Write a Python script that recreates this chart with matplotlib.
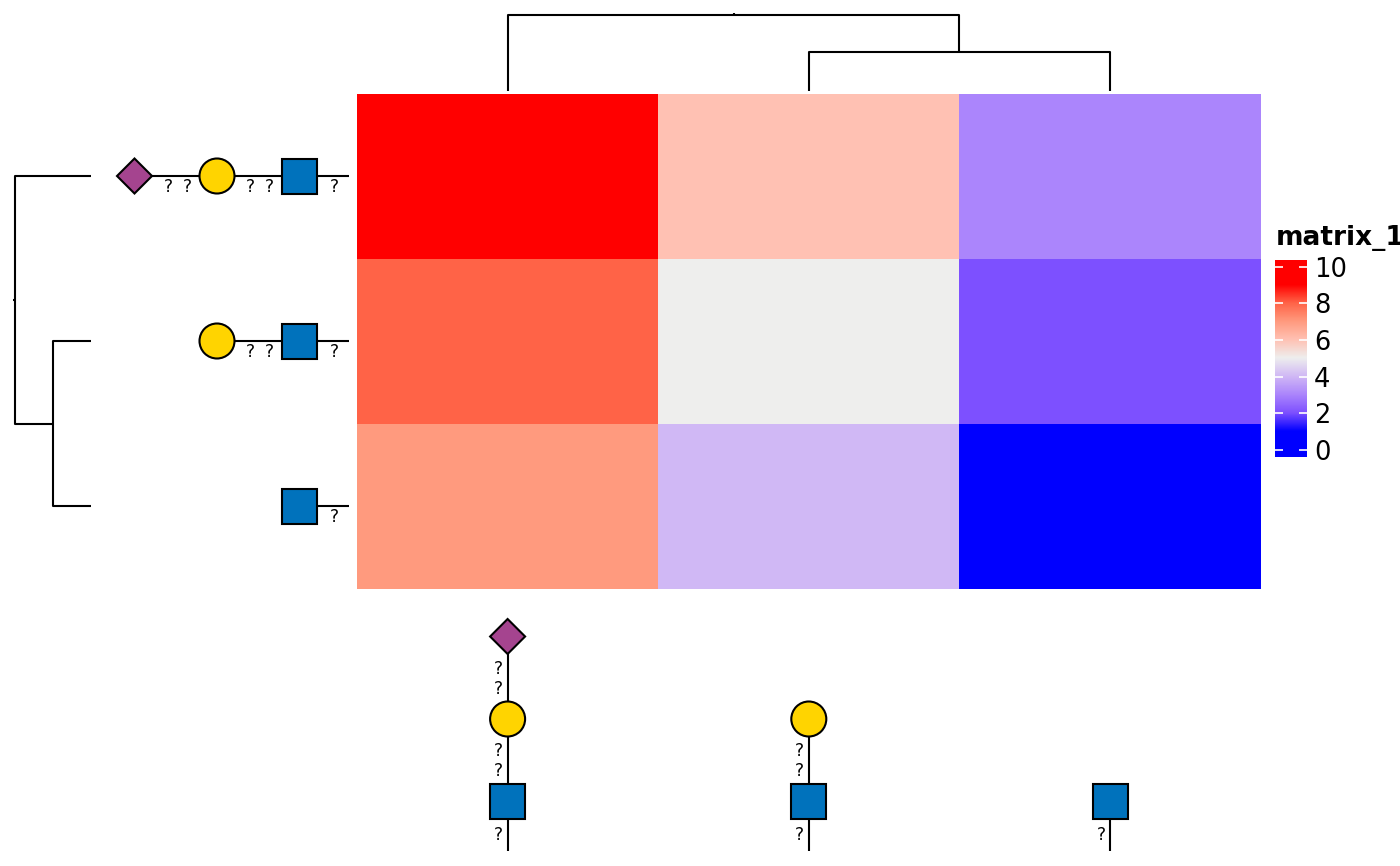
import numpy as np
import matplotlib.pyplot as plt
from matplotlib.colors import LinearSegmentedColormap
from matplotlib.patches import Circle, Rectangle, Polygon

# Heatmap values, top row first
row1 = [9, 6, 3]
row2 = [8, 5, 2]
row3 = [7, 4, 1]

# Colour ramp stops
ramp_values = [0, 1, 2, 3, 4, 5, 6, 7, 8, 9, 10]
ramp_colors = ['#0000FF', '#0000FF', '#7D50FF', '#AB85FC', '#D0B8F5', '#EEEEEE',
               '#FFC1B3', '#FF9A7E', '#FF6347', '#FF0000', '#FF0000']
legend_ticks = [0, 2, 4, 6, 8, 10]

# Glycans, reducing end first
glycans = [['GlcNAc', 'Gal', 'Neu5Ac'], ['GlcNAc', 'Gal'], ['GlcNAc']]
residue_colors = {'GlcNAc': '#0072BC', 'Gal': '#FFD400', 'Neu5Ac': '#A5448F'}

# Dendrogram merge heights in pixels away from the leaves
inner_merge_h = 38
root_merge_h = 75

W, H = 1400, 866
HM_L, HM_R, HM_T, HM_B = 357, 1260.6, 94, 589
LINE = 1.5
SPACING = 82.5
HALF = 17.5


def to_fig(l, t, r, b):
    return [l / W, 1 - b / H, (r - l) / W, (b - t) / H]


cmap = LinearSegmentedColormap.from_list(
    'ramp', [(v / 10, c) for v, c in zip(ramp_values, ramp_colors)], N=512)

fig = plt.figure(figsize=(14, 8.66), dpi=100)

# Pixel-coordinate overlay for dendrograms and glycans
ov = fig.add_axes([0, 0, 1, 1])
ov.set_xlim(0, W)
ov.set_ylim(H, 0)
ov.axis('off')

# Heatmap
ax = fig.add_axes(to_fig(HM_L, HM_T, HM_R, HM_B))
matrix = np.array([row1, row2, row3])
ax.pcolormesh(matrix, cmap=cmap, vmin=0, vmax=10, antialiased=False)
ax.set_ylim(3, 0)
ax.axis('off')

col_w = (HM_R - HM_L) / 3
row_h = (HM_B - HM_T) / 3
col_x = [HM_L + col_w * (i + 0.5) for i in range(3)]
row_y = [HM_T + row_h * (i + 0.5) - 0.5 for i in range(3)]


def seg(x, y):
    ov.plot(x, y, color='black', lw=LINE, solid_capstyle='butt', zorder=1)


# Top dendrogram
base = 90.5
inner_y = base - inner_merge_h - 1
root_y = base - root_merge_h - 1
inner_x = (col_x[1] + col_x[2]) / 2
seg([col_x[1], col_x[1], col_x[2], col_x[2]], [base, inner_y, inner_y, base])
seg([col_x[0], col_x[0], inner_x, inner_x], [base, root_y, root_y, inner_y])
seg([(col_x[0] + inner_x) / 2] * 2, [root_y, root_y - 1.5])

# Left dendrogram
base = 91
inner_x = base - inner_merge_h - 0.5
root_x = base - 76.5
inner_y = (row_y[1] + row_y[2]) / 2
seg([base, inner_x, inner_x, base], [row_y[1], row_y[1], row_y[2], row_y[2]])
seg([base, root_x, root_x, inner_x], [row_y[0], row_y[0], inner_y, inner_y])
seg([root_x, root_x - 1.5], [(row_y[0] + inner_y) / 2] * 2)


def residue(name, x, y):
    kw = dict(facecolor=residue_colors[name], edgecolor='black', lw=LINE, zorder=3)
    if name == 'GlcNAc':
        ov.add_patch(Rectangle((x - HALF, y - HALF), 2 * HALF, 2 * HALF, **kw))
    elif name == 'Gal':
        ov.add_patch(Circle((x, y), HALF, **kw))
    else:
        ov.add_patch(Polygon([(x - HALF, y), (x, y - HALF), (x + HALF, y), (x, y + HALF)], **kw))


def question(x, y):
    ov.text(x, y, '?', fontsize=12.5, ha='center', va='center', color='black')


# Glycans along the rows, running right to left
for chain, y in zip(glycans, row_y):
    x0 = 299.5
    seg([x0 + 49.5, x0 - SPACING * (len(chain) - 1)], [y, y])
    question(x0 + 35, y + 11)
    for i, name in enumerate(chain):
        x = x0 - SPACING * i
        residue(name, x, y)
        if i > 0:
            question(x + SPACING - 30, y + 11)
            question(x + SPACING - 49, y + 11)

# Glycans below the columns, running bottom to top
for chain, x in zip(glycans, col_x):
    y0 = 801.5
    seg([x, x], [y0 + 49.5, y0 - SPACING * (len(chain) - 1)])
    question(x - 9, y0 + 34)
    for i, name in enumerate(chain):
        y = y0 - SPACING * i
        residue(name, x, y)
        if i > 0:
            question(x - 9, y + SPACING - 30)
            question(x - 9, y + SPACING - 50)

# Legend
cax = fig.add_axes(to_fig(1275, 260, 1307, 457))
px_per_unit = (450 - 266.7) / 10
low = -(457 - 450) / px_per_unit
high = 10 + (266.7 - 260) / px_per_unit
grad = np.linspace(high, low, 256).reshape(-1, 1)
cax.imshow(grad, cmap=cmap, vmin=0, vmax=10, aspect='auto', extent=[0, 1, low, high])
cax.set_xticks([])
cax.set_yticks(legend_ticks)
cax.yaxis.tick_right()
cax.tick_params(axis='y', length=0, pad=5, labelsize=18.5)
for s in cax.spines.values():
    s.set_visible(False)
for t in legend_ticks:
    cax.plot([0, 0.25], [t, t], color='white', lw=1.2, solid_capstyle='butt')
    cax.plot([0.75, 1], [t, t], color='white', lw=1.2, solid_capstyle='butt')
cax.set_xlim(0, 1)
cax.set_ylim(low, high)
fig.text(1276 / W, 1 - 238 / H, 'matrix_1', fontsize=19, fontweight='bold', ha='left', va='center')

fig.savefig('out.png', dpi=100)
